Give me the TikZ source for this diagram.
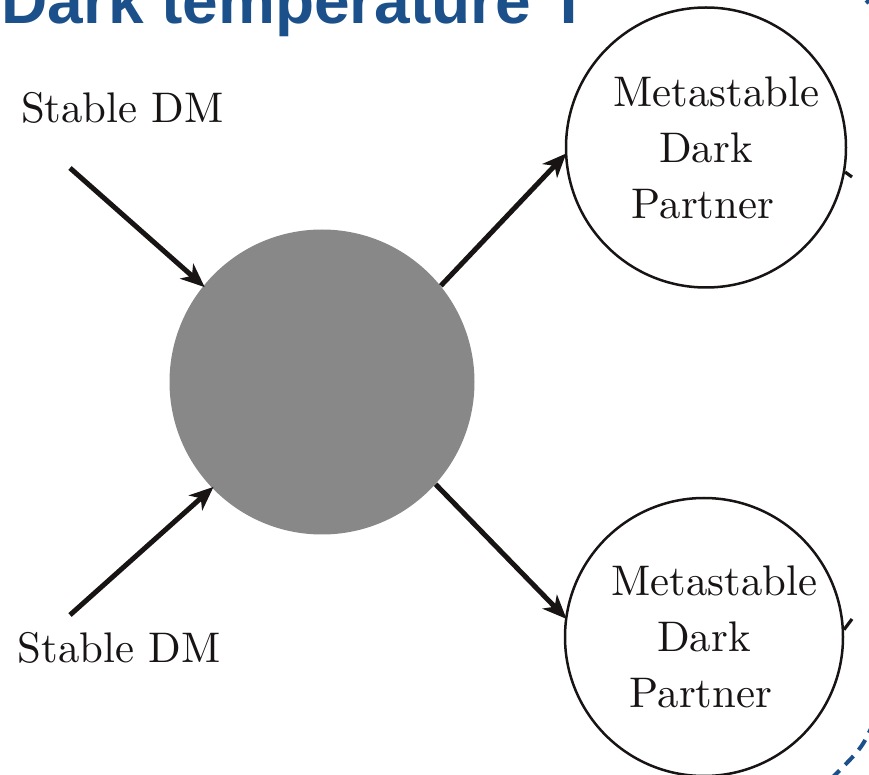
\documentclass[tikz,border=0pt]{standalone}
\usepackage{fontspec}
\newfontfamily\titlefont{Liberation Sans}
\usetikzlibrary{arrows.meta}
\definecolor{titleblue}{RGB}{27,80,138}
\definecolor{blobgray}{RGB}{136,136,136}
\definecolor{ink}{RGB}{24,20,20}
\newcommand{\bigtxt}[1]{\scalebox{2.14}{#1}}
\tikzset{
  blob/.style={circle,fill=blobgray,draw=none,inner sep=0pt,minimum size=152.5pt},
  partner/.style={circle,draw=ink,line width=1.25pt,inner sep=0pt,minimum size=140pt,align=center,
    font=\fontsize{10}{28}\selectfont,text=ink},
  lbl/.style={font=\fontsize{10}{12}\selectfont,text=ink,inner sep=0pt,anchor=base},
  arr/.style={draw=ink,line width=2.5pt,-{Stealth[length=12pt,width=10pt,inset=3.5pt]},shorten >=-1pt},
  stub/.style={draw=ink,line width=1.6pt},
  bluedash/.style={draw=titleblue,line width=2pt,dash pattern=on 6pt off 4pt},
  titletext/.style={font=\titlefont\bfseries\fontsize{32}{36}\selectfont,text=titleblue,inner sep=0pt,anchor=base west}
}
\begin{document}
\begin{tikzpicture}[x=0.5pt,y=-0.5pt]
\useasboundingbox (0,0) rectangle (869,775);
\clip (0,0) rectangle (869,775);
\node[titletext] (title) at (1,24) {Dark temperature T};
\node[blob] (X) at (322,382) {};
\node[partner] (T) at (706,147.5) {\hspace*{10.5pt}\bigtxt{Metastable}\\\bigtxt{Dark}\hspace*{7.5pt}\\\bigtxt{Partner}\hspace*{3pt}};
\node[partner,minimum size=139pt] (B) at (704,637) {\hspace*{10.5pt}\bigtxt{Metastable}\\\bigtxt{Dark}\hspace*{7.5pt}\\\bigtxt{Partner}\hspace*{3pt}};
\node[lbl] (s1) at (122.5,123) {\bigtxt{Stable DM}};
\node[lbl] (s2) at (119,663) {\bigtxt{Stable DM}};
\coordinate (a1) at (70,168);
\coordinate (a2) at (70,615);
\draw[arr] (a1) -- (X.141);
\draw[arr] (a2) -- (X.224);
\draw[arr] (X.39) -- (T.183);
\draw[arr] (X.318) -- (B.172);
\coordinate (t1) at (852,177);
\coordinate (b1) at (852,619);
\draw[stub] (T.-10) -- (t1);
\draw[stub] (B.3) -- (b1);
\coordinate (d1) at (874,722);
\coordinate (d2) at (830,780);
\draw[bluedash] (d1) .. controls (862,748) .. (d2);
\coordinate (d3) at (866,3);
\coordinate (d4) at (872,-2);
\draw[bluedash] (d3) -- (d4);
\end{tikzpicture}
\end{document}
